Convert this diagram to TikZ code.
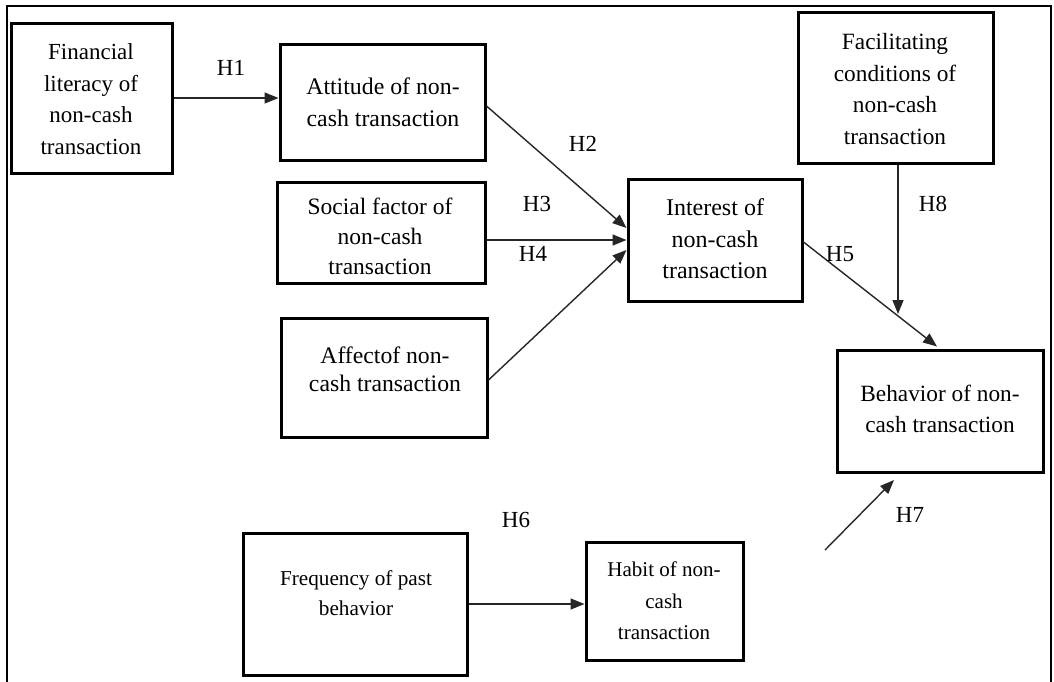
\documentclass[tikz,border=0pt]{standalone}
\usepackage{fontspec}
\setmainfont{Liberation Serif}
\usetikzlibrary{arrows.meta}
\begin{document}
\begin{tikzpicture}[x=1pt,y=-1pt,
  box/.style={draw=black, line width=3pt, inner sep=0pt},
  txt/.style={align=center, font=\fontsize{#1}{31.5}\selectfont, inner sep=0pt},
  txt/.default=23.5,
  lab/.style={font=\fontsize{23}{25}\selectfont, inner sep=0pt},
  conn/.style={line width=1.4pt, draw=black!85, -{Triangle[length=14pt,width=11pt]}}]
\useasboundingbox (0,0) rectangle (1054,681);
% outer frame
\draw[line width=2pt] (7,690) -- (7,6) -- (1051,6) -- (1051,690);
% boxes
\node[box, minimum width=161pt, minimum height=150pt] (fin) at (91.5,98) {};
\node[box, minimum width=205pt, minimum height=116pt] (att) at (382.5,102) {};
\node[box, minimum width=208pt, minimum height=101pt] (soc) at (381,232.5) {};
\node[box, minimum width=206pt, minimum height=119pt] (aff) at (384,377.5) {};
\node[box, minimum width=174pt, minimum height=122pt] (int) at (715,240) {};
\node[box, minimum width=195pt, minimum height=151pt] (fac) at (895.5,87.5) {};
\node[box, minimum width=206pt, minimum height=122pt] (beh) at (940,411) {};
\node[box, minimum width=224pt, minimum height=142pt] (fre) at (355,604) {};
\node[box, minimum width=157pt, minimum height=118pt] (hab) at (664.5,601) {};
% texts
\node[txt=23] (tfin) at (91,99) {Financial\\literacy of\\non-cash\\transaction};
\node[txt=23.8] (tatt) at (383,102) {Attitude of non-\\cash transaction};
\node[txt=23.5, font=\fontsize{23.5}{30}\selectfont] (tsoc) at (380,236) {Social factor of\\non-cash\\transaction};
\node[txt=23.7, font=\fontsize{23.7}{28}\selectfont] (taff) at (385,369) {Affectof non-\\cash transaction};
\node[txt=24] (tint) at (715,239) {Interest of\\non-cash\\transaction};
\node[txt=23.3] (tfac) at (895,89) {Facilitating\\conditions of\\non-cash\\transaction};
\node[txt=23.3] (tbeh) at (940,409) {Behavior of non-\\cash transaction};
\node[txt=21.2, font=\fontsize{21.2}{30}\selectfont] (tfre) at (356,593) {Frequency of past\\behavior};
\node[txt=21] (thab) at (664,601) {Habit of non-\\cash\\transaction};
% free ends
\coordinate (h8end) at (898,314);
\coordinate (h7s) at (825,550);
\coordinate (h7e) at (894,480);
% connectors
\draw[conn] (fin.east) -- (fin.east -| att.west);
\draw[conn] ([yshift=-4pt]att.east) -- ([yshift=12pt]int.west);
\draw[conn] (int.west -| soc.east) -- (int.west);
\draw[conn] ([yshift=-2.5pt]aff.east) -- ([yshift=-10pt]int.west);
\draw[conn] ([yshift=-2pt]int.east) -- ([xshift=-3pt,yshift=2pt]beh.north);
\draw[conn] ([xshift=2.5pt]fac.south) -- (h8end);
\draw[conn] (h7s) -- (h7e);
\draw[conn] (fre.east) -- (fre.east -| hab.west);
% labels
\node[lab] (h1) at (231,67.5) {H1};
\node[lab] (h2) at (583,144) {H2};
\node[lab] (h3) at (537,204) {H3};
\node[lab] (h4) at (533,254) {H4};
\node[lab] (h5) at (840,254) {H5};
\node[lab] (h8) at (933,204) {H8};
\node[lab] (h6) at (516,520) {H6};
\node[lab] (h7) at (910,515) {H7};
\end{tikzpicture}
\end{document}
